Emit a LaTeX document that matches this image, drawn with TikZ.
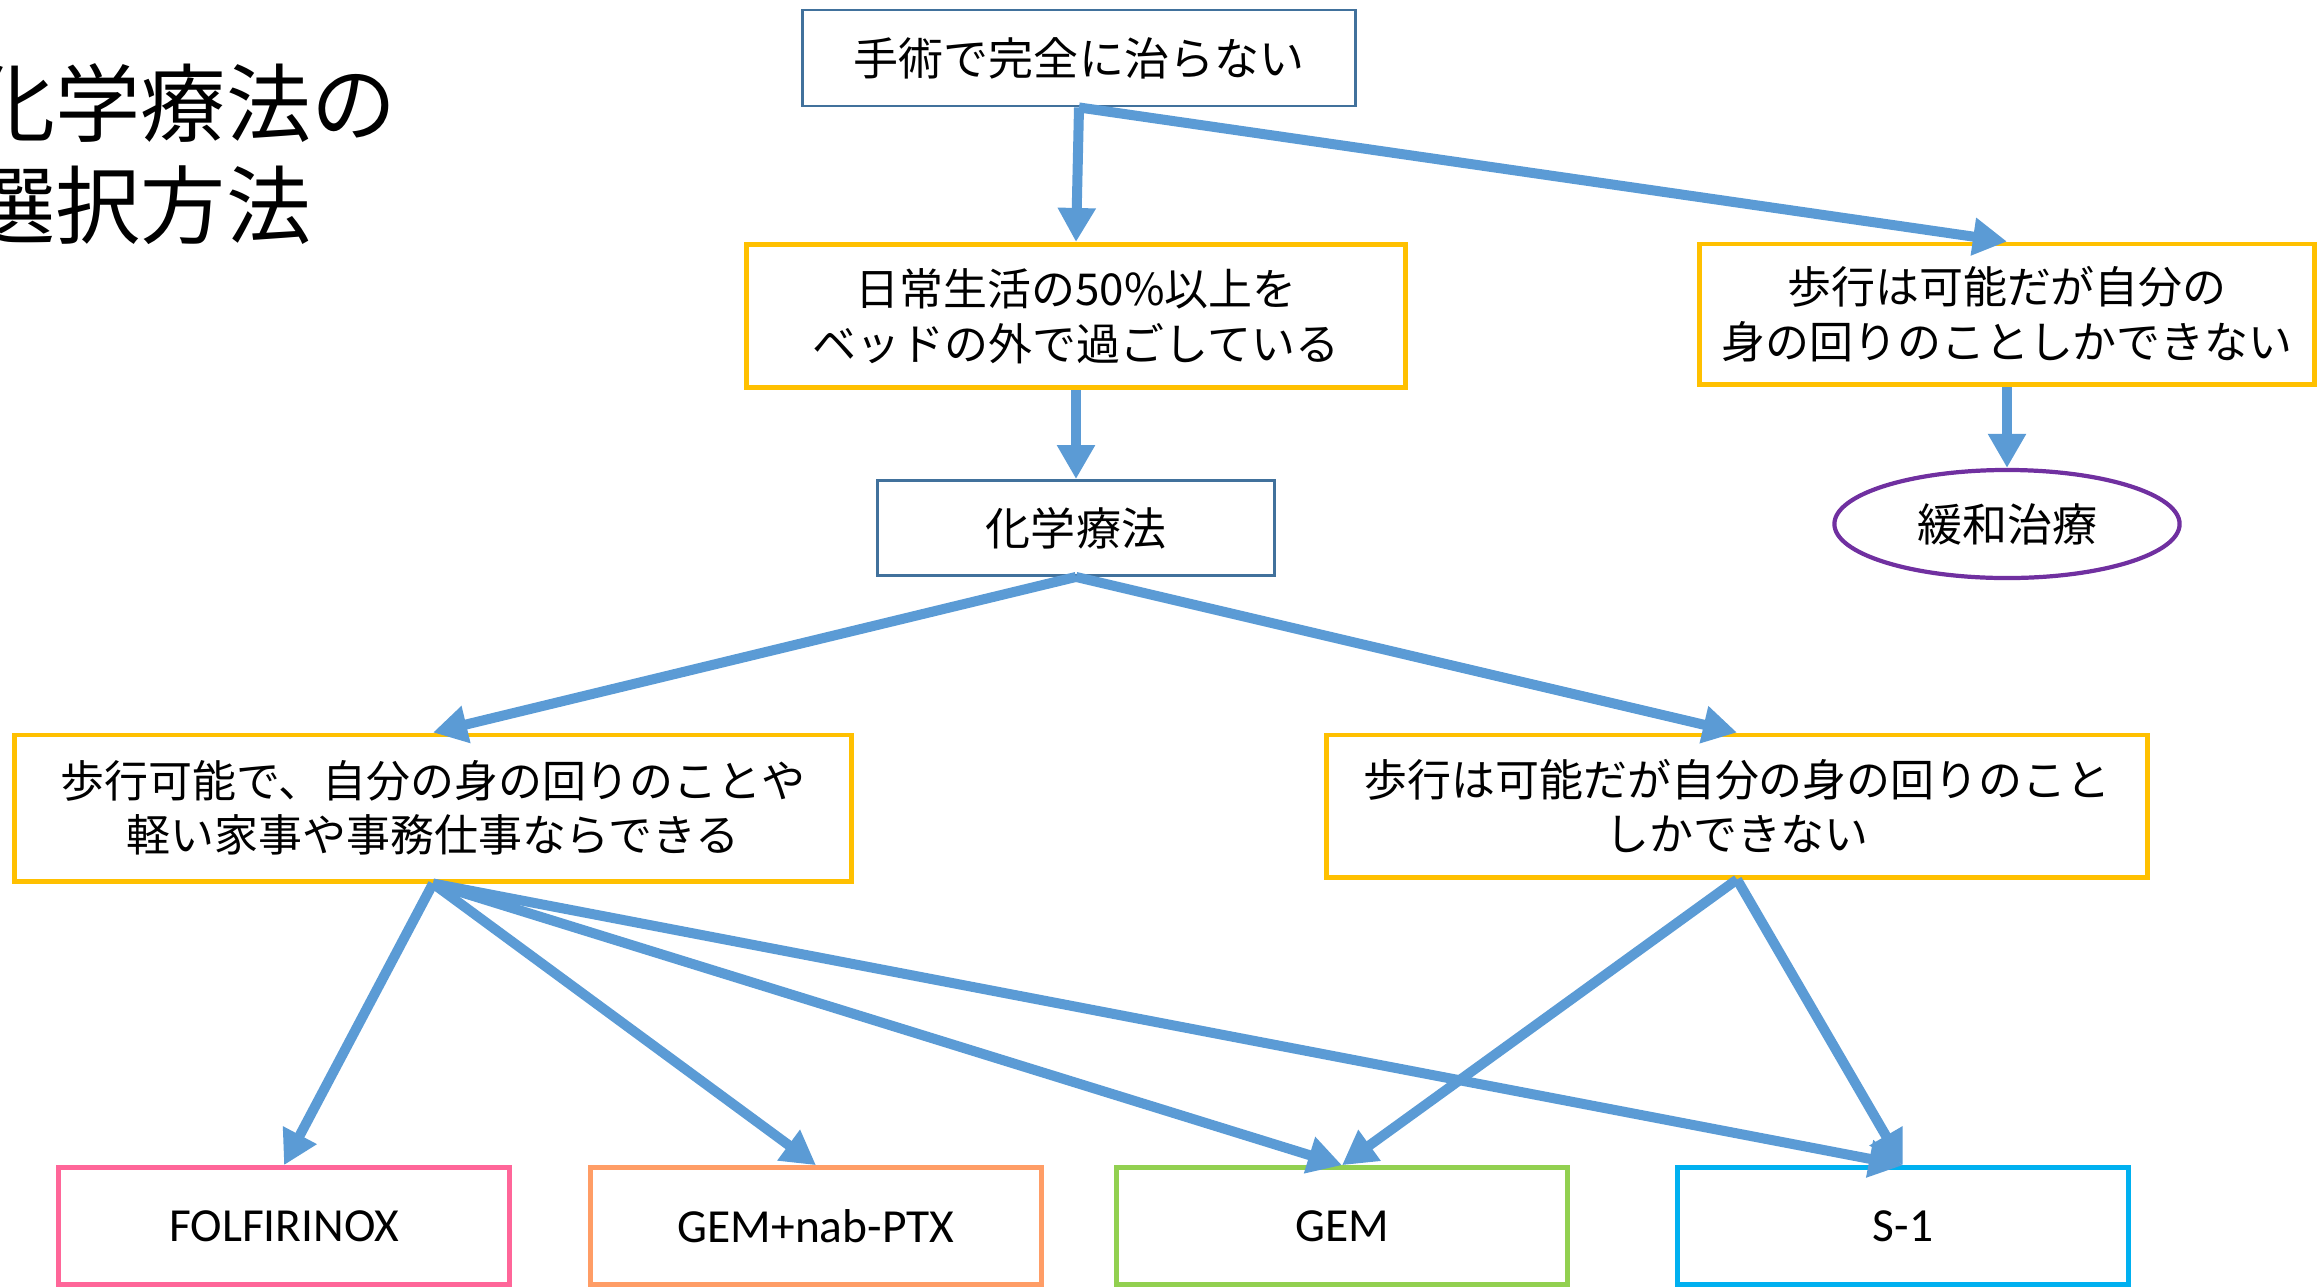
\documentclass[tikz,border=0pt]{standalone}
\usepackage{fontspec}
\setmainfont{Carlito}
\newfontfamily\jpfont{Noto Sans CJK JP}
\usepackage{tikz}
\usetikzlibrary{positioning,shapes,arrows.meta}
\definecolor{flowblue}{RGB}{91,155,213}
\definecolor{boxblue}{RGB}{65,113,156}
\definecolor{condyellow}{RGB}{255,192,0}
\definecolor{palpurple}{RGB}{112,48,160}
\definecolor{drugpink}{RGB}{255,102,153}
\definecolor{drugorange}{RGB}{255,157,102}
\definecolor{druggreen}{RGB}{146,208,80}
\definecolor{drugcyan}{RGB}{0,176,240}

\begin{document}
\begin{tikzpicture}[x=0.01cm,y=-0.01cm,
  flow/.style={line width=0.1cm,flowblue,-{Triangle[length=0.34cm,width=0.36cm]}},
  qbox/.style={draw=boxblue,line width=0.8pt,inner sep=0pt,font=\jpfont\fontsize{12.8}{15.5}\selectfont},
  condbox/.style={draw=condyellow,line width=1.4pt,inner sep=0pt,align=center,font=\jpfont\fontsize{12.5}{15.5}\selectfont},
  drugbox/.style={line width=1.3pt,inner sep=0pt,minimum width=4.51cm,minimum height=1.17cm,font=\fontsize{13.5}{16}\selectfont}]
\useasboundingbox (0,0) rectangle (2318,1287);

\node[anchor=west,align=left,inner sep=0pt,font=\jpfont\fontsize{24.2}{29}\selectfont] (title) at (-30,154) {化学療法の\\選択方法};

\node[qbox,minimum width=5.53cm,minimum height=0.96cm] (a1) at (1079,58) {手術で完全に治らない};
\node[condbox,minimum width=6.59cm,minimum height=1.43cm] (a2) at (1076,316) {日常生活の50\%以上を\\ベッドの外で過ごしている};
\node[condbox,minimum width=6.14cm,minimum height=1.40cm] (b1) at (2007,314) {歩行は可能だが自分の\\身の回りのことしかできない};
\node[qbox,minimum width=3.96cm,minimum height=0.95cm] (a3) at (1076,528) {化学療法};
\node[ellipse,draw=palpurple,line width=1.2pt,inner sep=0pt,minimum width=3.45cm,minimum height=1.08cm,font=\jpfont\fontsize{12.8}{15.5}\selectfont] (b2) at (2007,524) {緩和治療};

\node[condbox,minimum width=8.36cm,minimum height=1.46cm] (c1) at (433,808) {歩行可能で、自分の身の回りのことや\\軽い家事や事務仕事ならできる};
\node[condbox,minimum width=8.20cm,minimum height=1.42cm] (c2) at (1737,806) {歩行は可能だが自分の身の回りのこと\\しかできない};

\node[drugbox,draw=drugpink] (d1) at (284,1226) {FOLFIRINOX};
\node[drugbox,draw=drugorange] (d2) at (816,1226) {GEM+nab-PTX};
\node[drugbox,draw=druggreen] (d3) at (1342,1226) {GEM};
\node[drugbox,draw=drugcyan] (d4) at (1903,1226) {S-1};

\draw[flow] (a1.south) -- (a2.north);
\draw[flow] (a1.south) -- (b1.north);
\draw[flow] (a2.south) -- (a3.north);
\draw[flow] (b1.south) -- (b2.north);
\draw[flow] (a3.south) -- (c1.north);
\draw[flow] (a3.south) -- (c2.north);
\draw[flow] (c1.south) -- (d1.north);
\draw[flow] (c1.south) -- (d2.north);
\draw[flow] (c1.south) -- (d3.north);
\draw[flow] (c1.south) -- (d4.north);
\draw[flow] (c2.south) -- (d3.north);
\draw[flow] (c2.south) -- (d4.north);

\end{tikzpicture}
\end{document}
